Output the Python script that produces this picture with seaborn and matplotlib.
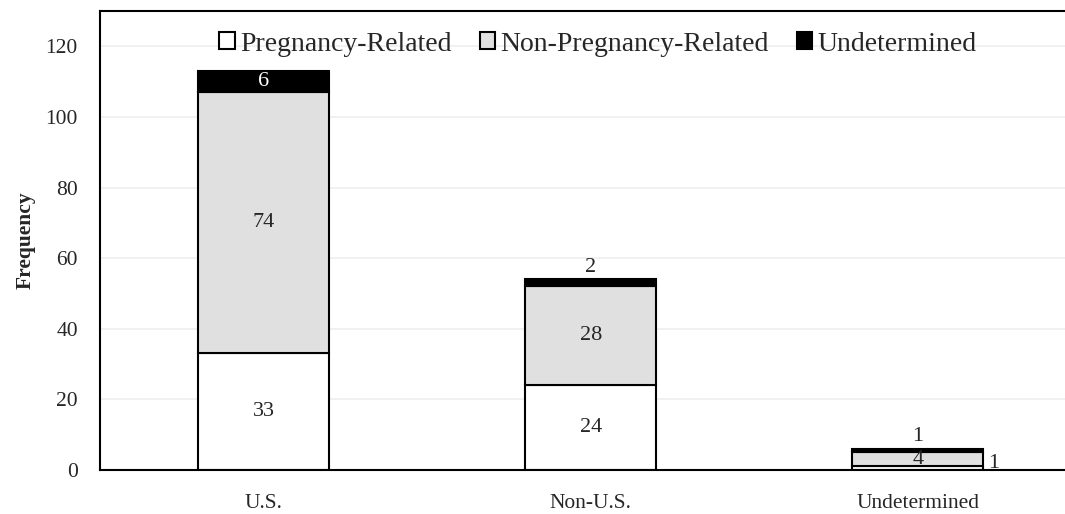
import matplotlib
matplotlib.use('Agg')
import matplotlib.pyplot as plt
import seaborn as sns
import pandas as pd

categories = ['U.S.', 'Non-U.S.', 'Undetermined']
pregnancy_related = [33, 24, 1]
non_pregnancy_related = [74, 28, 4]
undetermined = [6, 2, 1]
series_names = ['Pregnancy-Related', 'Non-Pregnancy-Related', 'Undetermined']
y_ticks = [0, 20, 40, 60, 80, 100, 120]

sns.set_style('white')
plt.rcParams['font.family'] = ['Liberation Serif', 'DejaVu Serif']

df = pd.DataFrame({'cat': categories, 'pr': pregnancy_related,
                   'npr': non_pregnancy_related, 'und': undetermined})
df['b2'] = df['pr'] + df['npr']

fig = plt.figure(figsize=(10.65, 5.14), dpi=100)
ax = fig.add_axes([0.094, 0.0856, 0.906, 0.893])

sns.barplot(data=df, x='cat', y='pr', color='white', edgecolor='black',
            linewidth=1.5, width=0.4, ax=ax, label=series_names[0], saturation=1)
sns.barplot(data=df, x='cat', y='npr', bottom=df['pr'], color='#e0e0e0',
            edgecolor='black', linewidth=1.5, width=0.4, ax=ax,
            label=series_names[1], saturation=1)
sns.barplot(data=df, x='cat', y='und', bottom=df['b2'], color='black',
            edgecolor='black', linewidth=1.5, width=0.4, ax=ax,
            label=series_names[2], saturation=1)

fs = 16
for i, row in df.iterrows():
    if i == 2:
        # tiny bar: labels pushed around like in the original
        ax.text(i + 0.215, 1.8, str(row['pr']), ha='left', va='center', fontsize=fs)
        ax.text(i, row['pr'] + row['npr'] / 2, str(row['npr']), ha='center', va='center', fontsize=fs)
        ax.text(i, row['b2'] + row['und'] + 0.8, str(row['und']), ha='center', va='bottom', fontsize=fs)
        continue
    ax.text(i, row['pr'] / 2, str(row['pr']), ha='center', va='center', fontsize=fs)
    ax.text(i, row['pr'] + row['npr'] / 2, str(row['npr']), ha='center', va='center', fontsize=fs)
    if row['und'] >= 5:
        ax.text(i, row['b2'] + row['und'] / 2, str(row['und']), ha='center', va='center',
                fontsize=fs, color='white')
    else:
        ax.text(i, row['b2'] + row['und'] + 0.8, str(row['und']), ha='center', va='bottom', fontsize=fs)

ax.set_xlim(-0.5, 2.45)
ax.set_ylim(0, 130)
ax.set_yticks(y_ticks)
ax.yaxis.grid(True, color='#efefef', linewidth=1.2)
ax.set_axisbelow(True)
ax.tick_params(axis='y', labelsize=15.5, pad=16, length=0)
ax.tick_params(axis='x', labelsize=15.5, pad=17, length=0)
ax.set_xlabel('')
ax.set_ylabel('Frequency', fontsize=15.5, fontweight='bold', labelpad=7)

for s in ['left', 'bottom', 'top']:
    ax.spines[s].set_color('black')
    ax.spines[s].set_linewidth(1.5)
ax.spines['right'].set_visible(False)

ax.legend(loc='center', bbox_to_anchor=(0.516, 0.928), ncol=3, frameon=False,
          fontsize=20, handlelength=0.55, handleheight=0.55, handletextpad=0.2,
          columnspacing=1.0, borderaxespad=0)

fig.savefig('out.png', dpi=100)
